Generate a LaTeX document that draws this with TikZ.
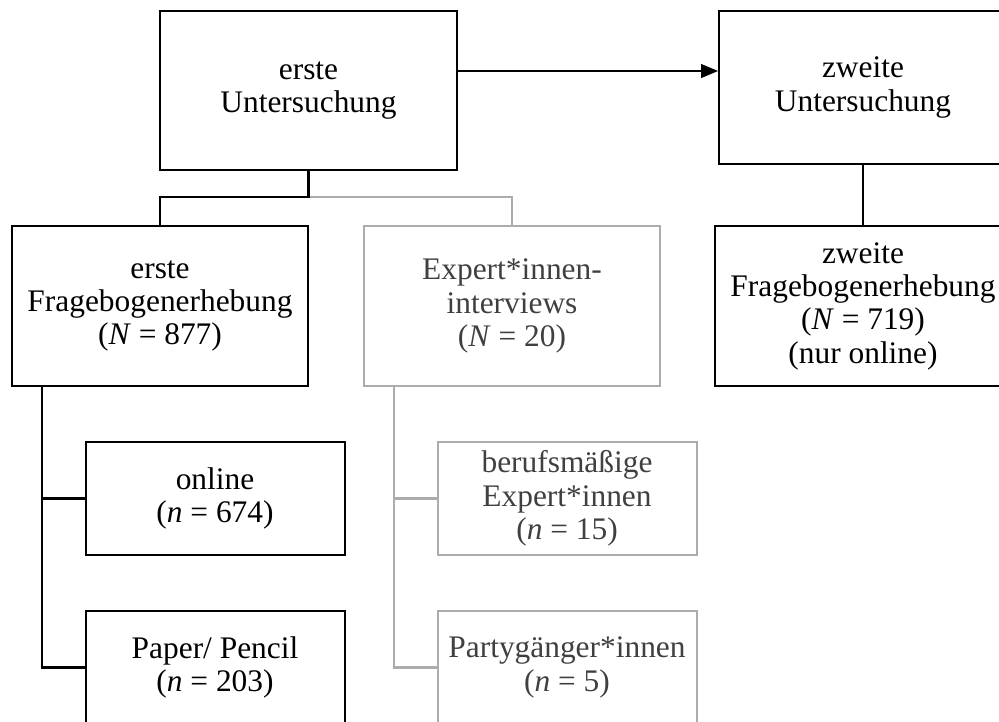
\documentclass[tikz,border=0pt]{standalone}
\usepackage{fontspec}
\setmainfont{Liberation Serif}
\usetikzlibrary{arrows.meta}
\usetikzlibrary{positioning}
\definecolor{linegray}{RGB}{172,172,172}
\definecolor{textgray}{RGB}{64,64,64}

\begin{document}
\begin{tikzpicture}
	[x=1pt,y=-1pt,every node/.style={rectangle,draw,line width=2pt,align=center,inner sep=0pt,font=\fontsize{31.4}{33.3}\selectfont},
	bigbox/.style={minimum width=296pt,minimum height=160pt},
	smallbox/.style={minimum width=259pt,minimum height=113pt},
	graybox/.style={draw=linegray,text=textgray},
	conn/.style={line width=2.2pt},
	gconn/.style={line width=2.2pt,draw=linegray}]
	\useasboundingbox (0,0) rectangle (999,721);
	\clip (0,0) rectangle (999,721);
	\node[minimum width=297pt,minimum height=159pt] (n1) at (308.5,90.5) {erste\\Untersuchung};
	\node[minimum width=288pt,minimum height=153pt] (n2) at (863,87.5) {zweite\\Untersuchung};
	\node[bigbox] (n3) at (160,306) {erste\\Fragebogenerhebung\\(\textit{N} = 877)};
	\node[bigbox,graybox] (n4) at (512,306) {Expert*innen-\\interviews\\(\textit{N} = 20)};
	\node[bigbox] (n5) at (863,306) {zweite\\Fragebogenerhebung\\(\textit{N} = 719)\\(nur online)};
	\node[smallbox] (n6) at (215,498.5) {online\\(\textit{n} = 674)};
	\node[smallbox] (n7) at (215,667.5) {Paper/ Pencil\\(\textit{n} = 203)};
	\node[smallbox,graybox] (n8) at (567,498.5) {berufsmäßige\\Expert*innen\\(\textit{n} = 15)};
	\node[smallbox,graybox] (n9) at (567,667.5) {Partygänger*innen\\(\textit{n} = 5)};

	\coordinate (j1) at (308.5,197);
	\coordinate (j3) at (42,386);
	\coordinate (j4) at (394,386);
	\coordinate (a1) at (457,71);

	\draw[gconn] (j1) -| (n4.north);
	\draw[conn] (n1.south) -- (j1) -| (n3.north);
	\draw[conn] (n2.south) -- (n5.north);
	\draw[line width=1.2pt,-{Triangle[length=17pt,width=14pt]}] (a1) -- (a1 -| n2.west);
	\foreach \to in {n6,n7}
	\draw[conn] (j3) |- (\to.west);
	\foreach \to in {n8,n9}
	\draw[gconn] (j4) |- (\to.west);
\end{tikzpicture}
\end{document}
